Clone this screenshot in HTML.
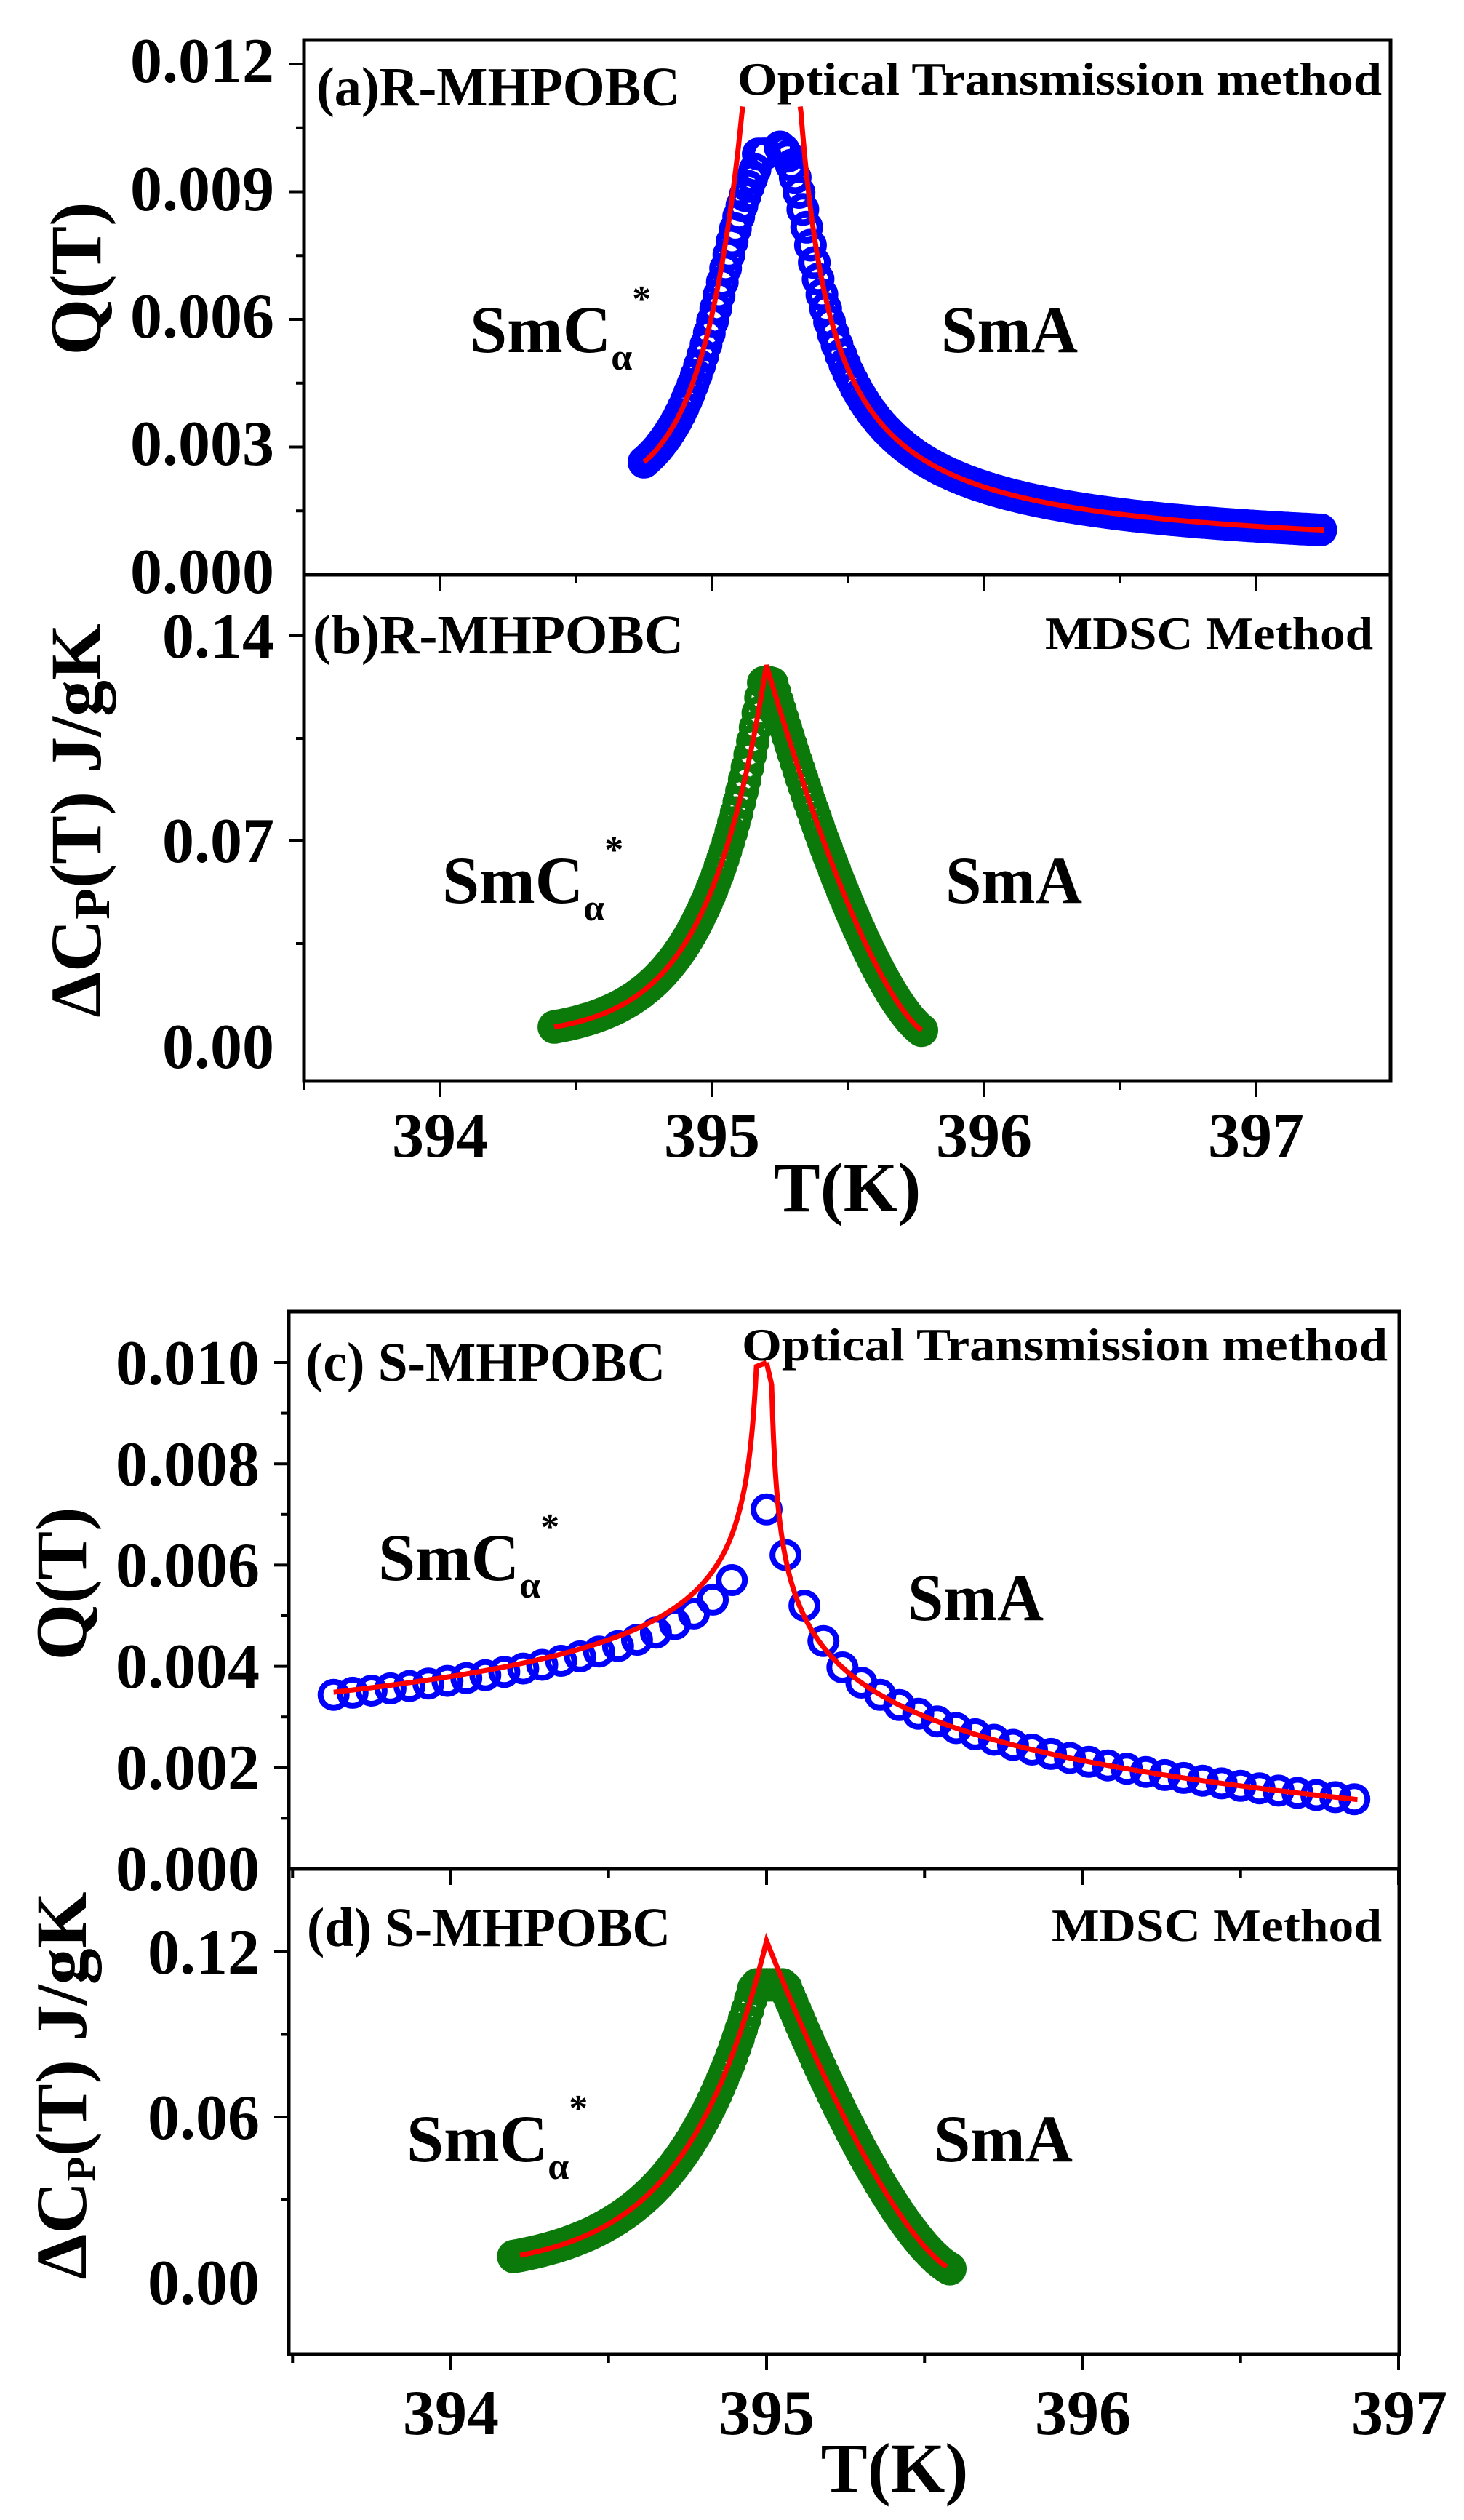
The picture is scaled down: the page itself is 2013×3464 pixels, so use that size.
<!DOCTYPE html>
<html><head><meta charset="utf-8"><style>
html,body{margin:0;padding:0;background:#fff;}
svg{display:block;}
text{font-family:"Liberation Serif",serif;font-weight:bold;fill:#000;}
</style></head><body>
<svg id="s" width="2013" height="3464" viewBox="0 0 2013 3464" xmlns="http://www.w3.org/2000/svg">
<rect width="2013" height="3464" fill="#fff"/>
<g id="g"></g>
<text x="377" y="113" font-size="88" text-anchor="end">0.012</text>
<text x="377" y="289" font-size="88" text-anchor="end">0.009</text>
<text x="377" y="464" font-size="88" text-anchor="end">0.006</text>
<text x="377" y="639" font-size="88" text-anchor="end">0.003</text>
<text x="377" y="815" font-size="88" text-anchor="end">0.000</text>
<text x="377" y="904" font-size="88" text-anchor="end">0.14</text>
<text x="377" y="1185" font-size="88" text-anchor="end">0.07</text>
<text x="377" y="1468" font-size="88" text-anchor="end">0.00</text>
<text x="605" y="1590" font-size="88" text-anchor="middle">394</text>
<text x="979" y="1590" font-size="88" text-anchor="middle">395</text>
<text x="1353" y="1590" font-size="88" text-anchor="middle">396</text>
<text x="1727" y="1590" font-size="88" text-anchor="middle">397</text>
<text x="1165" y="1665" font-size="96" text-anchor="middle">T(K)</text>
<text transform="translate(138,383) rotate(-90)" font-size="100" text-anchor="middle">Q(T)</text>
<text transform="translate(138,1128) rotate(-90)" font-size="100" text-anchor="middle">ΔC<tspan font-size="70" dy="12">P</tspan><tspan dy="-12">(T) J/gK</tspan></text>
<text x="435" y="145" font-size="76" textLength="500" lengthAdjust="spacingAndGlyphs">(a)R-MHPOBC</text>
<text x="1014" y="130" font-size="64" textLength="886" lengthAdjust="spacingAndGlyphs">Optical Transmission method</text>
<text x="646" y="484" font-size="92">SmC<tspan font-size="52" dy="24">α</tspan><tspan font-size="52" dy="-80">*</tspan></text>
<text x="1294" y="484" font-size="92" textLength="188" lengthAdjust="spacingAndGlyphs">SmA</text>
<text x="430" y="898" font-size="76" textLength="510" lengthAdjust="spacingAndGlyphs">(b)R-MHPOBC</text>
<text x="1437" y="892" font-size="64" textLength="451" lengthAdjust="spacingAndGlyphs">MDSC Method</text>
<text x="608" y="1241" font-size="92">SmC<tspan font-size="52" dy="24">α</tspan><tspan font-size="52" dy="-80">*</tspan></text>
<text x="1300" y="1241" font-size="92" textLength="188" lengthAdjust="spacingAndGlyphs">SmA</text>
<text x="357" y="1903" font-size="88" text-anchor="end">0.010</text>
<text x="357" y="2042" font-size="88" text-anchor="end">0.008</text>
<text x="357" y="2181" font-size="88" text-anchor="end">0.006</text>
<text x="357" y="2320" font-size="88" text-anchor="end">0.004</text>
<text x="357" y="2459" font-size="88" text-anchor="end">0.002</text>
<text x="357" y="2598" font-size="88" text-anchor="end">0.000</text>
<text x="357" y="2713" font-size="88" text-anchor="end">0.12</text>
<text x="357" y="2940" font-size="88" text-anchor="end">0.06</text>
<text x="357" y="3167" font-size="88" text-anchor="end">0.00</text>
<text x="620" y="3346" font-size="88" text-anchor="middle">394</text>
<text x="1054" y="3346" font-size="88" text-anchor="middle">395</text>
<text x="1489" y="3346" font-size="88" text-anchor="middle">396</text>
<text x="1924" y="3346" font-size="88" text-anchor="middle">397</text>
<text x="1230" y="3425" font-size="96" text-anchor="middle">T(K)</text>
<text transform="translate(118,2177) rotate(-90)" font-size="100" text-anchor="middle">Q(T)</text>
<text transform="translate(118,2867) rotate(-90)" font-size="100" text-anchor="middle">ΔC<tspan font-size="56" dy="12">P</tspan><tspan dy="-12">(T) J/gK</tspan></text>
<text x="420" y="1898" font-size="76" textLength="495" lengthAdjust="spacingAndGlyphs">(c) S-MHPOBC</text>
<text x="1020" y="1870" font-size="64" textLength="888" lengthAdjust="spacingAndGlyphs">Optical Transmission method</text>
<text x="520" y="2172" font-size="92">SmC<tspan font-size="52" dy="24">α</tspan><tspan font-size="52" dy="-80">*</tspan></text>
<text x="1248" y="2227" font-size="92" textLength="187" lengthAdjust="spacingAndGlyphs">SmA</text>
<text x="422" y="2675" font-size="76" textLength="500" lengthAdjust="spacingAndGlyphs">(d) S-MHPOBC</text>
<text x="1446" y="2668" font-size="64" textLength="454" lengthAdjust="spacingAndGlyphs">MDSC Method</text>
<text x="559" y="2971" font-size="92">SmC<tspan font-size="52" dy="24">α</tspan><tspan font-size="52" dy="-80">*</tspan></text>
<text x="1284" y="2971" font-size="92" textLength="191" lengthAdjust="spacingAndGlyphs">SmA</text>
</svg>
<script>
(function(){
var g=document.getElementById('g'),h='';
function L(x1,y1,x2,y2,w){h+='<line x1="'+x1+'" y1="'+y1+'" x2="'+x2+'" y2="'+y2+'" stroke="#000" stroke-width="'+(w||5)+'"/>';}
function frame(x0,x1,y0,ym,y1,xm,t0,ppk,ya,yb){
 h+='<rect x="'+x0+'" y="'+y0+'" width="'+(x1-x0)+'" height="'+(y1-y0)+'" fill="none" stroke="#000" stroke-width="5"/>';
 L(x0,ym,x1,ym,5);
 for(var T=393.5;T<=397.01;T+=0.5){var x=xm+(T-t0)*ppk;if(x<x0-1||x>x1+1)continue;var big=Math.abs(T-Math.round(T))<0.01;
  L(x,y1,x,y1+(big?22:12),4);L(x,ym,x,ym+(big?22:12),4);}
 ya.forEach(function(v){L(x0-20,v,x0,v,4);});
 yb.forEach(function(v){L(x0-11,v,x0,v,4);});
}
function xa(T){return 979+(T-395)*374;}
function ya(q){return 790-q/0.003*175.5;}
function yb(c){return 1438-c/0.14*564;}
frame(418,1912,55,790,1486,979,395,374,[ya(0.012),ya(0.009),ya(0.006),ya(0.003)],[ya(0.0105),ya(0.0075),ya(0.0045),ya(0.0015),yb(0.105),yb(0.035)]);
[874,1155].forEach(function(v){L(398,v,418,v,4);});
function xc(T){return 1054+(T-395)*434.5;}
function yc(q){return 2569-q/0.002*139.2;}
function yd(c){return 3137-c/0.06*227;}
frame(397,1924,1803,2569,3236,1054,395,434.5,[yc(0.010),yc(0.008),yc(0.006),yc(0.004),yc(0.002)],[yc(0.009),yc(0.007),yc(0.005),yc(0.003),yc(0.001),yd(0.09),yd(0.03)]);
[2683,2910].forEach(function(v){L(377,v,397,v,4);});

function circles(pts,col,r,sw){pts.forEach(function(p){if(isFinite(p[1]))h+='<circle cx="'+p[0].toFixed(1)+'" cy="'+p[1].toFixed(1)+'" r="'+r+'" fill="none" stroke="'+col+'" stroke-width="'+sw+'"/>';});}
function line(pts){h+='<polyline fill="none" stroke="#ff0000" stroke-width="7" points="'+pts.map(function(p){return p[0].toFixed(1)+','+p[1].toFixed(1);}).join(' ')+'"/>';}
function sat(f,m){return Math.pow(Math.pow(f,-4)+Math.pow(m,-4),-0.25);}
// (a)
function qaL(T){return 0.0018+0.0008*Math.exp(6.63*(T-394.75))+0.00002/Math.max(395.17-T,0.001);}
function qaR(T){return 0.0004+0.00133/Math.max(T-395.2,0.001);}
var c=[],l;
for(var T=394.75;T<=395.2;T+=0.012)c.push([xa(T),ya(sat(qaL(T),0.0099))]);
for(var T=395.25;T<=397.25;T+=0.014)c.push([xa(T),ya(sat(qaR(T),0.0101))]);
circles(c,'#0000ff',18,9);
l=[];for(var T=394.75;T<395.17;T+=0.004){var q=qaL(T);if(q>0.011){l.push([xa(T),ya(0.011)]);break;}l.push([xa(T),ya(q)]);}line(l);
l=[];for(var T=397.25;T>395.2;T-=0.003){var q=qaR(T);if(q>0.011){l.push([xa(T),ya(0.011)]);break;}l.push([xa(T),ya(q)]);}line(l);
// (b)
function cbL(T){return 0.003+0.127*Math.exp(-4.6*(395.2-T));}
function cbR(T){var d=T-395.2;return 0.004+0.126*Math.pow(Math.max(0,1-d/0.6),1.5);}
c=[];for(var T=394.42;T<=395.2;T+=0.01)c.push([xa(T),yb(Math.min(cbL(T),0.124))]);
for(var T=395.2;T<=395.77;T+=0.01)c.push([xa(T),yb(Math.min(cbR(T),0.124))]);
circles(c,'#0b7a0b',18,10);
l=[];for(var T=394.42;T<=395.2;T+=0.005)l.push([xa(T),yb(cbL(T))]);for(var T=395.2;T<=395.77;T+=0.005)l.push([xa(T),yb(cbR(T))]);line(l);
// (c)
function qcL(T){var d=Math.max(395-T,0.0005);return 0.0037-0.0009*Math.log(d)+0.0001/d;}
function qcR(T){var d=Math.max(T-395,0.0005);return 0.0021-0.0012*Math.log(d)+0.00004/d;}
c=[];for(var T=393.63;T<=394.9;T+=0.06)c.push([xc(T),yc(sat(qcL(T),0.0070))]);
c.push([xc(395.0),yc(0.0071)]);
[[395.06,0.0062],[395.12,0.0052],[395.18,0.0045]].forEach(function(p){c.push([xc(p[0]),yc(p[1])]);});
for(var T=395.24;T<=396.88;T+=0.06)c.push([xc(T),yc(qcR(T))]);
circles(c,'#0000ff',18,8);
l=[];for(var T=393.63;T<395;T+=0.003){var q=qcL(T);if(q>0.0100)break;l.push([xc(T),yc(q)]);}l.push([xc(395),yc(0.0100)]);line(l);
l=[];for(var T=396.87;T>395;T-=0.003){var q=qcR(T);if(q>0.0100)break;l.push([xc(T),yc(q)]);}l.push([xc(395),yc(0.0100)]);line(l);
// (d)
function cdL(T){return 0.004+0.12*Math.exp(-3.9*(395-T));}
function cdR(T){var d=T-395;return 0.004+0.12*Math.pow(Math.max(0,1-d/0.6),1.45);}
c=[];for(var T=394.2;T<=395;T+=0.01)c.push([xc(T),yd(Math.min(cdL(T),0.108))]);
for(var T=395;T<=395.58;T+=0.01)c.push([xc(T),yd(Math.min(cdR(T),0.108))]);
circles(c,'#0b7a0b',18,10);
l=[];for(var T=394.22;T<=395;T+=0.005)l.push([xc(T),yd(cdL(T))]);for(var T=395;T<=395.57;T+=0.005)l.push([xc(T),yd(cdR(T))]);line(l);
g.innerHTML=h;
})();
</script>
</body></html>
